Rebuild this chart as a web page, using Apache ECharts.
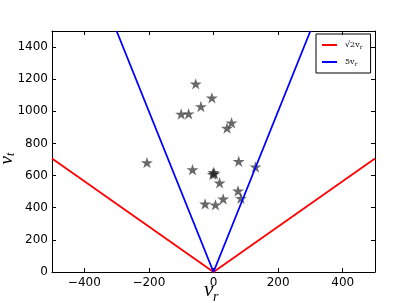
<!DOCTYPE html>
<html><head><meta charset="utf-8">
<script src="https://cdn.jsdelivr.net/npm/echarts@6/dist/echarts.min.js"></script>
<style>html,body{margin:0;padding:0;background:#fff}#c{width:416px;height:303px}</style>
</head><body><div id="c"></div>
<script>
// data
const starX = [-55, -5, -39, -100, -77, 56, 42, -206, 78, -65, 130, 0, 3, -2, 19, 76, 85, 30, -26, 6];
const starY = [1171, 1084, 1030, 983, 985, 929, 896, 681, 689, 637, 654, 620, 612, 608, 555, 505, 459, 455, 424, 418];
const redX = [-500, 0, 500];
const redY = [707.1, 0, 707.1];
const blueX = [-300, 0, 300];
const blueY = [1500, 0, 1500];
const xTicks = [-400, -200, 0, 200, 400];
const yTicks = [0, 200, 400, 600, 800, 1000, 1200, 1400];

const star = 'path://M0,-10 L2.245,-3.09 L9.511,-3.09 L3.633,1.18 L5.878,8.09 L0,3.82 L-5.878,8.09 L-3.633,1.18 L-9.511,-3.09 L-2.245,-3.09 Z';
const zip = (a, b) => a.map((v, i) => [v, b[i]]);
const fmt = v => String(v).replace('-', '\u2212');
const lab = {fontFamily: 'DejaVu Sans', fontSize: 12, color: '#000'};
const ax = {fontFamily: 'Liberation Serif', fontStyle: 'italic', fontSize: 21, fill: '#000'};
const sub = {fontFamily: 'Liberation Serif', fontStyle: 'italic', fontSize: 14, fill: '#000'};

const chart = echarts.init(document.getElementById('c'), null, {renderer: 'canvas'});
chart.setOption({
  animation: false,
  grid: {left: 52, right: 41, top: 31, bottom: 31, outerBoundsMode: 'none'},
  legend: {
    orient: 'vertical', left: 316, top: 34, width: 56,
    borderColor: '#000', borderWidth: 1, borderRadius: 0,
    padding: [7, 8, 6, 6], itemGap: 8, itemWidth: 15, itemHeight: 2,
    icon: 'rect',
    data: ['sqrt', 'five'],
    formatter: n => n === 'sqrt' ? '{t|\u221A2v}{s|r}' : '{t|5v}{s|r}',
    textStyle: {padding: [0, 0, 0, 3], rich: {t: {fontFamily: 'DejaVu Serif', fontSize: 8, color: '#000'}, s: {fontFamily: 'DejaVu Serif', fontSize: 6, color: '#000', padding: [4, 0, 0, 0]}}}
  },
  graphic: [
    {type: 'text', left: 204, top: 280, style: {text: 'v', ...ax}},
    {type: 'text', left: 213, top: 290, style: {text: 'r', ...sub}}
  ],
  xAxis: [{
    type: 'value', min: -500, max: 500,
    axisLine: {onZero: false, lineStyle: {color: '#000', width: 1}},
    axisTick: {inside: true, length: 4, customValues: xTicks, lineStyle: {color: '#000'}},
    axisLabel: {customValues: xTicks, formatter: fmt, margin: 5, ...lab},
    splitLine: {show: false}
  }, {
    type: 'value', min: -500, max: 500, position: 'top',
    axisLine: {onZero: false, lineStyle: {color: '#000', width: 1}},
    axisTick: {inside: true, length: 4, customValues: xTicks, lineStyle: {color: '#000'}},
    axisLabel: {show: false}, splitLine: {show: false}
  }],
  yAxis: [{
    type: 'value', min: 0, max: 1500, interval: 100,
    name: '{v|v}{s|t}', nameLocation: 'middle', nameGap: 35, nameRotate: 90,
    nameMoveOverlap: false,
    nameTextStyle: {padding: [0, 14, 0, 0], rich: {
      v: {fontFamily: 'Liberation Serif', fontStyle: 'italic', fontSize: 19, color: '#000'},
      s: {fontFamily: 'Liberation Serif', fontStyle: 'italic', fontSize: 12, color: '#000', padding: [8, 0, 0, 0]}
    }},
    axisLine: {show: true, onZero: false, lineStyle: {color: '#000', width: 1}},
    axisTick: {inside: true, length: 4, customValues: yTicks, lineStyle: {color: '#000'}},
    axisLabel: {customValues: yTicks, formatter: v => String(v), margin: 4, ...lab},
    splitLine: {show: false}
  }, {
    type: 'value', min: 0, max: 1500, position: 'right',
    axisLine: {show: true, onZero: false, lineStyle: {color: '#000', width: 1}},
    axisTick: {inside: true, length: 4, customValues: yTicks, lineStyle: {color: '#000'}},
    axisLabel: {show: false}, splitLine: {show: false}
  }],
  series: [{
    name: 'sqrt', type: 'line', data: zip(redX, redY), showSymbol: false,
    lineStyle: {color: '#ff0000', width: 1.8}, itemStyle: {color: '#ff0000'}
  }, {
    name: 'five', type: 'line', data: zip(blueX, blueY), showSymbol: false,
    lineStyle: {color: '#0000ff', width: 1.8}, itemStyle: {color: '#0000ff'}
  }, {
    name: 'stars', type: 'scatter', data: zip(starX, starY),
    symbol: star, symbolKeepAspect: true, symbolSize: 12,
    itemStyle: {color: 'rgba(35,35,35,0.85)'}
  }]
});
</script></body></html>
